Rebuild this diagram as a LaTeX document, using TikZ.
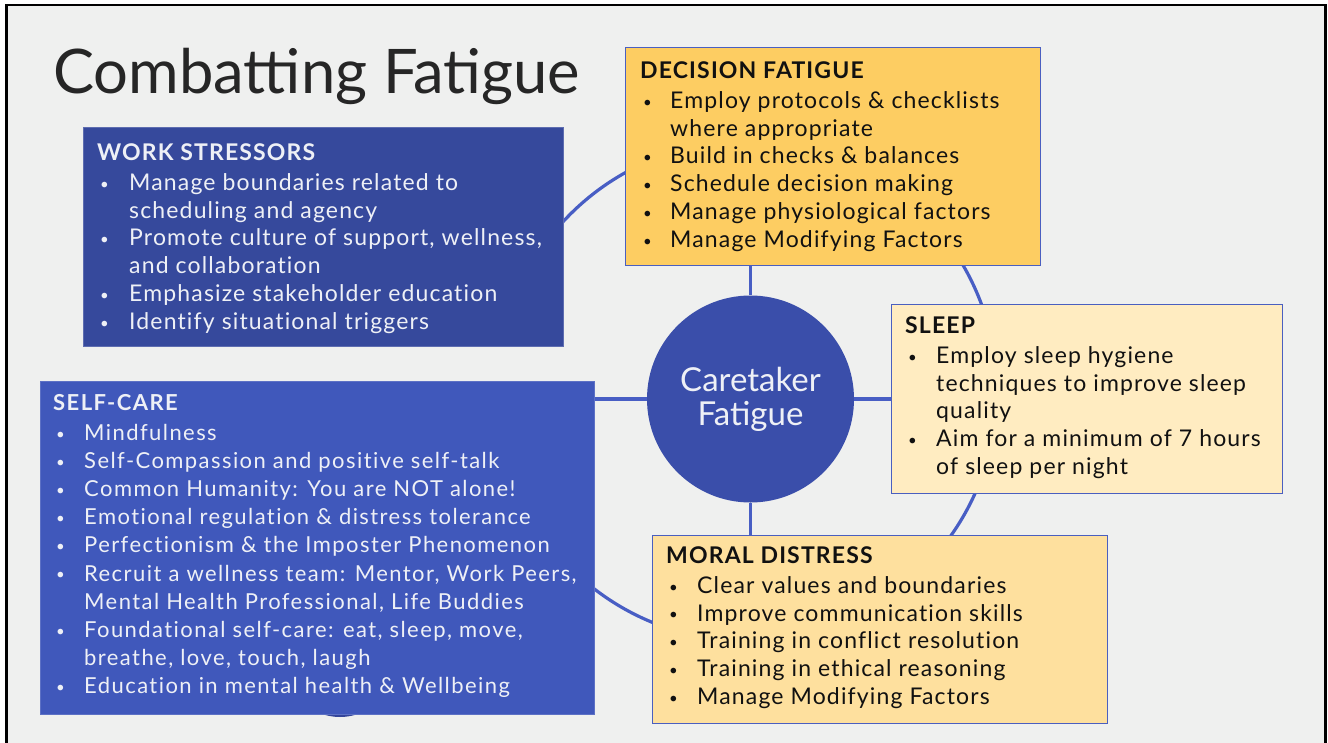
\documentclass[tikz,border=0pt]{standalone}
\usepackage{fontspec}
\setmainfont{Lato}
\newfontfamily\bodyf[LetterSpace=5,Ligatures=NoCommon]{Lato}
\newfontfamily\selff[LetterSpace=6.5,Ligatures=NoCommon]{Lato}
\newfontfamily\titlef{Lato}
\usetikzlibrary{calc}
\definecolor{bg}{HTML}{EFF0EF}
\definecolor{wsblue}{HTML}{36499C}
\definecolor{scblue}{HTML}{4058BB}
\definecolor{ctrblue}{HTML}{3A4EAA}
\definecolor{bumpblue}{HTML}{34459A}
\definecolor{linkblue}{HTML}{485EC4}
\definecolor{decfill}{HTML}{FDCD62}
\definecolor{slfill}{HTML}{FFECC1}
\definecolor{mdfill}{HTML}{FEE09E}
\definecolor{edgeblue}{HTML}{4A5FC0}
\definecolor{lighttext}{HTML}{EEF0F6}
\definecolor{darktext}{HTML}{111111}
\definecolor{titletext}{HTML}{262626}
\newlength\bind
\newcommand\bul{\raisebox{1.2pt}{\fontsize{15}{15}\selectfont\textbullet}}
\newcommand\itm[1]{\par\hangindent=\bind\hangafter=1\noindent\makebox[\bind][l]{\hspace{3pt}\bul}#1}
\newcommand\hd[1]{\noindent\rule{0pt}{20pt}{\bfseries #1}\par\vspace{2.2pt}}
\newcommand\blist[3]{\begin{minipage}[t]{620pt}\vspace{0pt}\raggedright\setlength\parskip{0pt}\setlength\bind{#1}#2\hd{#3}}
\tikzset{
  panel/.style={rectangle, inner sep=0pt, anchor=north west, line width=0.8pt},
  link/.style={draw=linkblue, line width=3.2pt},
  txt/.style={anchor=north west, inner sep=0pt}
}
\begin{document}
\begin{tikzpicture}[x=1pt,y=-1pt]
\useasboundingbox (0,0) rectangle (1328,742);
\clip (0,0) rectangle (1328,742);
\fill[white] (0,0) rectangle (1328,742);
\filldraw[fill=bg, draw=black, line width=2.4pt] (6.5,5) rectangle (1325.5,780);
% ring arcs
\coordinate (ring) at (747,391);
\draw[link] ($(ring)+(150:250pt)$) arc[start angle=150, end angle=110, radius=250pt];
\draw[link] ($(ring)+(40:250pt)$) arc[start angle=40, end angle=10, radius=250pt];
\draw[link] ($(ring)+(-10:250pt)$) arc[start angle=-10, end angle=-45, radius=250pt];
\draw[link] ($(ring)+(260:250pt)$) arc[start angle=260, end angle=220, radius=250pt];
% hidden shape peeking under self-care
\fill[bumpblue] (340,662) circle[radius=55pt];
% panels
\node[panel, fill=wsblue, draw=wsblue!80!white, minimum width=480pt, minimum height=219pt] (work) at (83,127) {};
\node[panel, fill=decfill, draw=edgeblue, minimum width=415pt, minimum height=218pt] (dec) at (625,47) {};
\node[panel, fill=slfill, draw=edgeblue, minimum width=391pt, minimum height=189pt] (sleep) at (891,304) {};
\node[panel, fill=mdfill, draw=edgeblue, minimum width=455pt, minimum height=188pt] (moral) at (652,535) {};
\node[panel, fill=scblue, draw=scblue!85!white, minimum width=554pt, minimum height=333pt] (self) at (40,381) {};
% center
\node[circle, fill=ctrblue, minimum size=207pt, inner sep=0pt, align=center, text=lighttext,
      font=\titlef\fontsize{33}{34}\selectfont] (ctr) at (750.5,399) {Caretaker\\Fatigue};
% spokes
\draw[link] (ctr.north) -- (ctr.north |- dec.south);
\draw[link] (ctr.south) -- (ctr.south |- moral.north);
\draw[link] (ctr.west) -- (ctr.west -| self.east);
\draw[link] (ctr.east) -- (ctr.east -| sleep.west);
% title
\node[anchor=base west, inner sep=0pt, text=titletext, font=\titlef\fontsize{61.5}{66}\selectfont] (title) at (53,93) {Combatting Fatigue};
% texts
\node[txt, text=lighttext] (worktxt) at (97,140) {\blist{32pt}{\bodyf\fontsize{23}{27.8}\selectfont}{WORK STRESSORS}
\itm{Manage boundaries related to\newline scheduling and agency}
\itm{Promote culture of support, wellness,\newline and collaboration}
\itm{Emphasize stakeholder education}
\itm{Identify situational triggers}\end{minipage}};
\node[txt, text=darktext] (dectxt) at (640,58) {\blist{30pt}{\bodyf\fontsize{23}{27.8}\selectfont}{DECISION FATIGUE}
\itm{Employ protocols \& checklists\newline where appropriate}
\itm{Build in checks \& balances}
\itm{Schedule decision making}
\itm{Manage physiological factors}
\itm{Manage Modifying Factors}\end{minipage}};
\node[txt, text=darktext] (sleeptxt) at (905,313) {\blist{31pt}{\bodyf\fontsize{23}{27.8}\selectfont}{SLEEP}
\itm{Employ sleep hygiene\newline techniques to improve sleep\newline quality}
\itm{Aim for a minimum of 7 hours\newline of sleep per night}\end{minipage}};
\node[txt, text=darktext] (moraltxt) at (666,543) {\blist{31pt}{\bodyf\fontsize{23}{27.8}\selectfont}{MORAL DISTRESS}
\itm{Clear values and boundaries}
\itm{Improve communication skills}
\itm{Training in conflict resolution}
\itm{Training in ethical reasoning}
\itm{Manage Modifying Factors}\end{minipage}};
\node[txt, text=lighttext] (selftxt) at (53,390) {\blist{31pt}{\selff\fontsize{22}{28.1}\selectfont}{SELF-CARE}
\itm{Mindfulness}
\itm{Self-Compassion and positive self-talk}
\itm{Common Humanity: You are NOT alone!}
\itm{Emotional regulation \& distress tolerance}
\itm{Perfectionism \& the Imposter Phenomenon}
\itm{Recruit a wellness team: Mentor, Work Peers,\newline Mental Health Professional, Life Buddies}
\itm{Foundational self-care: eat, sleep, move,\newline breathe, love, touch, laugh}
\itm{Education in mental health \& Wellbeing}\end{minipage}};
\end{tikzpicture}
\end{document}
